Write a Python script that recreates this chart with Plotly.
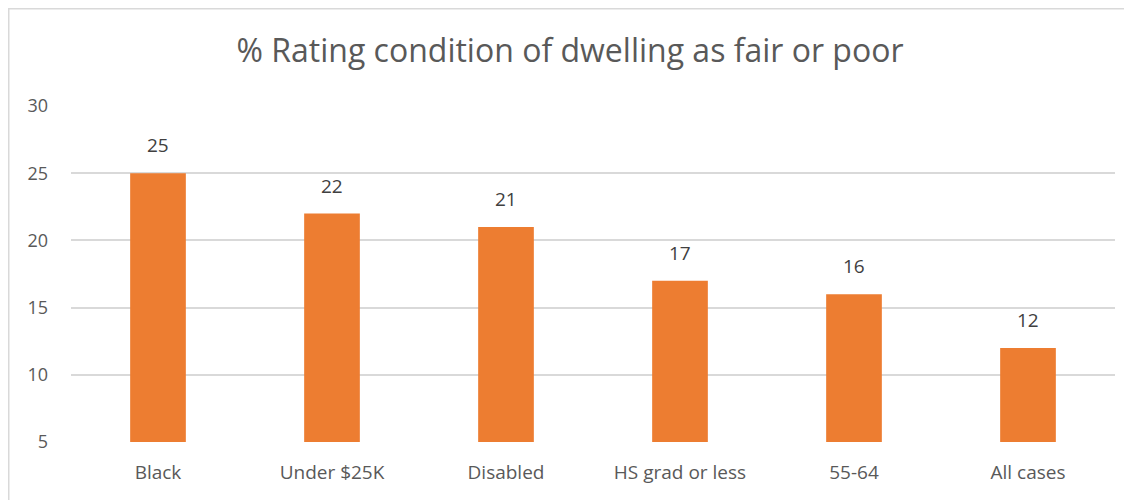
import plotly.graph_objects as go

categories = ["Black", "Under $25K", "Disabled", "HS grad or less", "55-64", "All cases"]
values = [25, 22, 21, 17, 16, 12]
tick_vals = [5, 10, 15, 20, 25, 30]
title_text = "% Rating condition of dwelling as fair or poor"

# page body has an 8px margin; figure sized to fit the window
W, H = 1124, 492
L, R, T, B = 63, 17, 98, 58
pw, ph = W - L - R, H - T - B

fig = go.Figure(go.Bar(
    x=categories, y=values,
    base=0,
    marker=dict(color="#ED7D31", line=dict(width=0)),
    cliponaxis=False,
))

for c, v in zip(categories, values):
    fig.add_annotation(x=c, y=v, text=str(v), showarrow=False, yanchor="bottom", yshift=13,
                       font=dict(family="Open Sans", size=19, color="#404040"))

fig.update_layout(
    width=W, height=H,
    margin=dict(l=L, r=R, t=T, b=B),
    paper_bgcolor="white", plot_bgcolor="white",
    bargap=0.68,
    showlegend=False,
    title=dict(text=title_text, x=0.5, xanchor="center", y=1 - 43 / H, yanchor="middle",
               font=dict(family="Open Sans", size=32, color="#595959")),
    xaxis=dict(showline=False, ticks="", showgrid=False, ticklabelstandoff=17,
               tickfont=dict(family="Open Sans", size=19, color="#595959")),
    yaxis=dict(range=[5, 30], tickvals=tick_vals, showgrid=True, gridcolor="#D9D9D9", gridwidth=1.5,
               zeroline=False, showline=False, ticks="", ticklabelstandoff=22,
               tickfont=dict(family="Open Sans", size=18, color="#595959")),
    shapes=[dict(type="rect", xref="paper", yref="paper",
                 x0=(0.75 - L) / pw, x1=(W + 10 - L) / pw,
                 y0=-(B + 10) / ph, y1=(H - 0.75 - B) / ph,
                 line=dict(color="#D9D9D9", width=1.5), fillcolor="rgba(0,0,0,0)", layer="below")],
)

fig.write_html("out.html")
